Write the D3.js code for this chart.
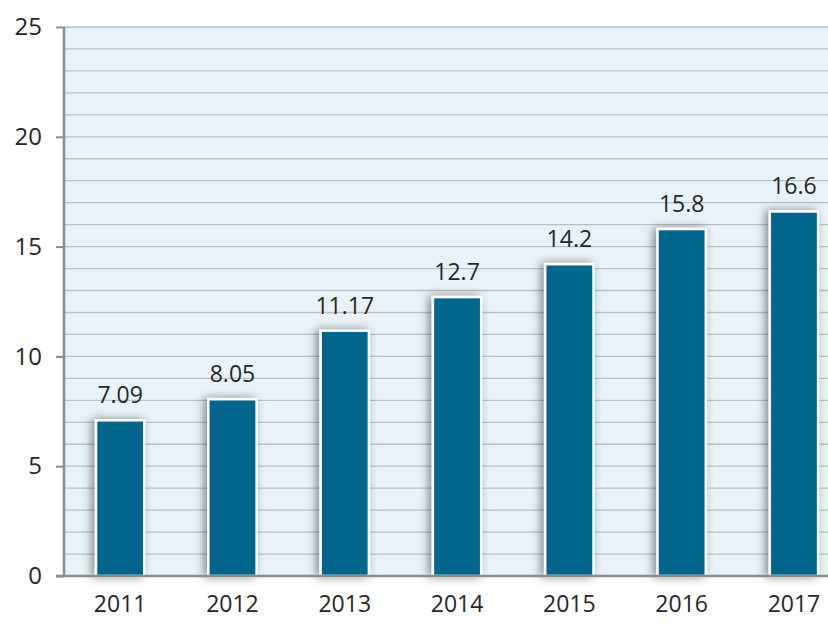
<!DOCTYPE html>
<html>
<head>
<meta charset="utf-8">
<script src="https://cdn.jsdelivr.net/npm/d3@7"></script>
<style>
  body { margin: 0; background: #fff; }
  text { font-family: "Open Sans", "Liberation Sans", sans-serif; fill: #262626; }
</style>
</head>
<body>
<div id="chart"></div>
<script>
// data
let years = ["2011", "2012", "2013", "2014", "2015", "2016", "2017"];
let values = [7.09, 8.05, 11.17, 12.7, 14.2, 15.8, 16.6];
let labels = ["7.09", "8.05", "11.17", "12.7", "14.2", "15.8", "16.6"];
let yTicks = [0, 5, 10, 15, 20, 25];

let width = 828;
let height = 628;
let plotLeft = 64;
let plotTop = 27;
let plotBottom = 576;
let step = 112.3;

let svg = d3.select("#chart")
  .append("svg")
  .attr("width", width)
  .attr("height", height);

// shadow for the bars
let defs = svg.append("defs");
let filter = defs.append("filter")
  .attr("id", "shadow")
  .attr("x", "-50%").attr("y", "-10%")
  .attr("width", "200%").attr("height", "120%");
filter.append("feDropShadow")
  .attr("dx", -3).attr("dy", 0)
  .attr("stdDeviation", 5)
  .attr("flood-color", "#000")
  .attr("flood-opacity", 0.45);

let xScale = d3.scaleBand()
  .domain(years)
  .range([plotLeft, plotLeft + step * years.length])
  .paddingInner(0.57)
  .paddingOuter(0.285);

let yScale = d3.scaleLinear()
  .domain([0, 25])
  .range([plotBottom, plotTop]);

// plot background
svg.append("rect")
  .attr("x", plotLeft)
  .attr("y", plotTop)
  .attr("width", width - plotLeft)
  .attr("height", plotBottom - plotTop)
  .attr("fill", "#e8f2f8");

// gridlines every unit
svg.append("g")
  .selectAll("line")
  .data(d3.range(1, 26))
  .enter()
  .append("line")
  .attr("x1", plotLeft)
  .attr("x2", width)
  .attr("y1", d => yScale(d))
  .attr("y2", d => yScale(d))
  .attr("stroke", "#b9c1c5")
  .attr("stroke-width", 1.3);

// bars
svg.append("g")
  .selectAll("rect")
  .data(values)
  .enter()
  .append("rect")
  .attr("x", (d, i) => xScale(years[i]))
  .attr("y", d => yScale(d))
  .attr("width", xScale.bandwidth())
  .attr("height", d => plotBottom - yScale(d))
  .attr("fill", "#02668c")
  .attr("stroke", "#ffffff")
  .attr("stroke-width", 2.5)
  .attr("filter", "url(#shadow)");

// value labels
svg.append("g")
  .selectAll("text")
  .data(values)
  .enter()
  .append("text")
  .attr("x", (d, i) => xScale(years[i]) + xScale.bandwidth() / 2)
  .attr("y", d => yScale(d) - 17)
  .attr("text-anchor", "middle")
  .attr("font-size", 23)
  .text((d, i) => labels[i]);

// y axis
let yAxis = d3.axisLeft(yScale)
  .tickValues(yTicks)
  .tickSize(8)
  .tickPadding(14)
  .tickFormat(d3.format("d"));

let yG = svg.append("g")
  .attr("transform", "translate(" + plotLeft + ",0)")
  .call(yAxis);
yG.select(".domain").attr("stroke", "#8c8c8c").attr("stroke-width", 2.5)
  .attr("d", "M0," + plotTop + "V" + plotBottom);
yG.selectAll(".tick line").attr("stroke", "#8c8c8c").attr("stroke-width", 2);
yG.selectAll(".tick text")
  .attr("font-size", 24)
  .attr("font-family", "'Open Sans', sans-serif")
  .attr("fill", "#262626");

// x axis
let xAxis = d3.axisBottom(xScale).tickSize(0).tickPadding(20);
let xG = svg.append("g")
  .attr("transform", "translate(0," + plotBottom + ")")
  .call(xAxis);
xG.select(".domain").remove();
svg.append("line")
  .attr("x1", plotLeft - 8)
  .attr("x2", width)
  .attr("y1", plotBottom)
  .attr("y2", plotBottom)
  .attr("stroke", "#8c8c8c")
  .attr("stroke-width", 2.5);
xG.selectAll(".tick text")
  .attr("font-size", 23)
  .attr("font-family", "'Open Sans', sans-serif")
  .attr("fill", "#262626");
</script>
</body>
</html>
